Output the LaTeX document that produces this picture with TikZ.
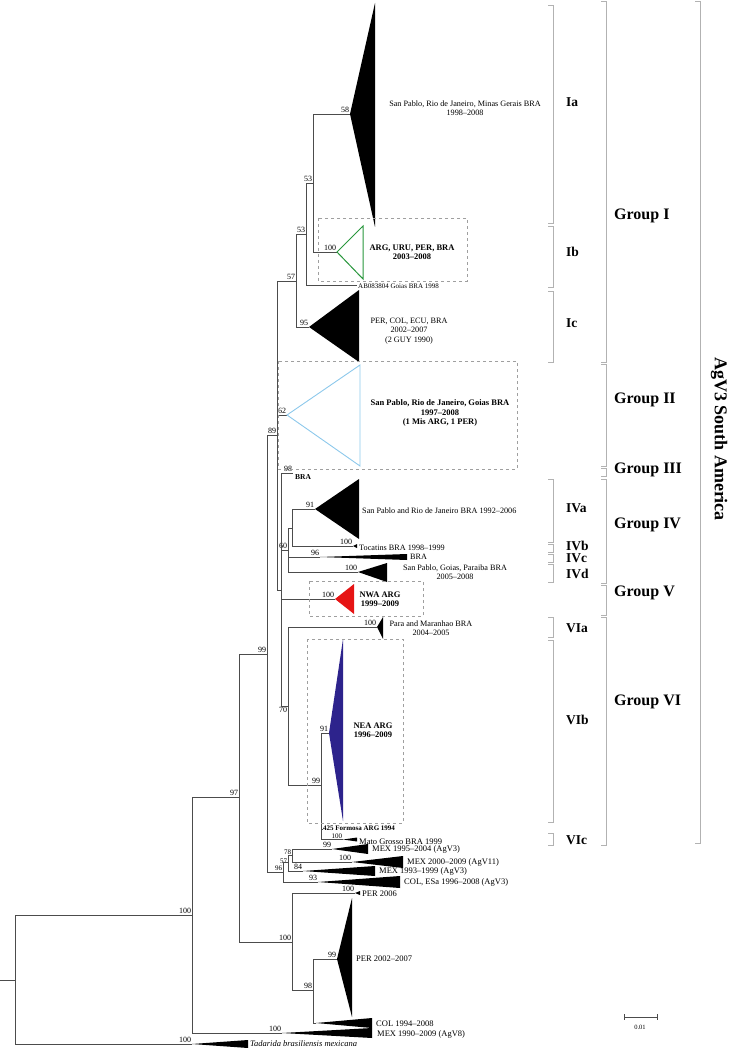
\documentclass[tikz,border=0pt]{standalone}
\usepackage{fontspec}
\setmainfont{Liberation Serif}
\definecolor{cladegreen}{RGB}{40,150,60}
\definecolor{cladesky}{RGB}{140,200,235}
\definecolor{cladered}{RGB}{230,20,20}
\definecolor{cladenavy}{RGB}{45,35,140}
\tikzset{
  branch/.style={draw=black!70, line width=0.6pt},
  bs/.style={font=\fontsize{8}{8}\selectfont, inner sep=0.8pt},
  sbs/.style={font=\fontsize{7}{7}\selectfont, inner sep=0.6pt},
  txt/.style={font=\fontsize{8.2}{9.3}\selectfont, align=center, inner sep=0pt},
  btxt/.style={txt, font=\fontsize{8.5}{9.5}\selectfont\bfseries},
  ltxt/.style={txt, font=\fontsize{8.5}{9.5}\selectfont, anchor=west},
  dbox/.style={draw=gray!75, dashed, line width=0.7pt},
  brk/.style={draw=gray!60, line width=0.9pt},
  sublab/.style={font=\fontsize{13.5}{13.5}\selectfont\bfseries, anchor=west, inner sep=0pt},
  grplab/.style={font=\fontsize{16}{16}\selectfont\bfseries, anchor=west, inner sep=0pt}
}
\begin{document}
\begin{tikzpicture}[x=1pt,y=-1pt]
\useasboundingbox (0,0) rectangle (731,1048);

% backbone
\coordinate (origin) at (0,980);
\coordinate (root) at (15,980);
\coordinate[label={[bs]above left:100}] (nA) at (192,915);
\coordinate[label={[bs]above left:100}] (tad) at (192,1044);
\coordinate[label={[bs]above left:97}] (nB) at (239,797);
\coordinate[label={[bs]above left:100}] (agv8) at (282,1033);
\coordinate[label={[bs]above left:99}] (nD) at (267,654);
\coordinate[label={[bs]above left:100}] (nC) at (292,942);
\coordinate[label={[bs]above left:100}] (per06) at (355,893);
\coordinate[label={[bs]above left:98}] (nE) at (313,990);
\coordinate[label={[bs]above left:99}] (per27) at (337,959);
\coordinate (col) at (316,1023);

% mexican lineages
\coordinate[label={[sbs, yshift=0.8pt]above left:96}] (nF) at (283,872);
\coordinate[label={[sbs, yshift=0.8pt]left:57}] (nG) at (288,862);
\coordinate[label={[sbs]above left:78}] (nH) at (292,855);
\coordinate[label={[bs]above left:93}] (colesa) at (318,882);
\coordinate[label={[bs]above left:84}] (mex9399) at (303,871);
\coordinate[label={[bs]above left:99}] (mex9504) at (332,849);
\coordinate[label={[bs]above left:100}] (mex0009) at (352,862);

% south american groups
\coordinate[label={[bs]above left:89}] (nI) at (277,435);
\coordinate[label={[bs]above left:57}] (nP) at (296,281);
\coordinate[label={[bs]above left:62}] (g2) at (287,415);
\coordinate (nJ) at (281,590);
\coordinate[label={[bs]above left:53}] (nQ) at (306,234);
\coordinate[label={[bs]above left:95}] (ic) at (309,327);
\coordinate[label={[bs]above left:53}] (nR) at (313,183);
\coordinate (ab) at (357,285);
\coordinate[label={[bs]above left:58}] (ia) at (350,114);
\coordinate[label={[bs]above left:100}] (ib) at (337,252);
\coordinate[label={[bs]above left:98}] (bra) at (293,473);
\coordinate[label={[bs]above left:60}] (nK) at (288,550);
\coordinate[label={[bs]above left:100}] (nwa) at (335,599);
\coordinate[label={[bs]below left:70}] (nM) at (288,706);
\coordinate (nL) at (292,528);
\coordinate[label={[bs]above left:96}] (ivc) at (320,557);
\coordinate[label={[bs]above left:100}] (ivd) at (358,572);
\coordinate[label={[bs]above left:91}] (iva) at (315,509);
\coordinate[label={[bs]above left:100}] (ivb) at (353,546);
\coordinate[label={[bs]above left:100}] (via) at (377,627);
\coordinate[label={[bs]above left:99}] (nN) at (321,785);
\coordinate[label={[bs]above left:91}] (vib) at (329,733);
\coordinate (formosa) at (323,829);
\coordinate[label={[sbs]above left:100}] (mato) at (343,839.5);

% branches
\draw[branch] (origin) -- (root);
\draw[branch] (root) |- (nA) (root) |- (tad);
\draw[branch] (nA) |- (nB) (nA) |- (agv8);
\draw[branch] (nB) |- (nD) (nB) |- (nC);
\draw[branch] (nC) |- (per06) (nC) |- (nE);
\draw[branch] (nE) |- (per27) (nE) |- (col);
\draw[branch] (nD) |- (nI) (nD) |- (nF);
\draw[branch] (nF) |- (nG) (nF) |- (colesa);
\draw[branch] (nG) |- (nH) (nG) |- (mex9399);
\draw[branch] (nH) |- (mex9504) (nH) |- (mex0009);
\draw[branch] (nI) |- (nP) (nI) |- (g2) (nI) |- (nJ);
\draw[branch] (nP) |- (nQ) (nP) |- (ic);
\draw[branch] (nQ) |- (nR) (nQ) |- (ab);
\draw[branch] (nR) |- (ia) (nR) |- (ib);
\draw[branch] (nJ) |- (bra) (nJ) |- (nK) (nJ) |- (nwa) (nJ) |- (nM);
\draw[branch] (nK) |- (nL) (nK) |- (ivc) (nK) |- (ivd);
\draw[branch] (nL) |- (iva) (nL) |- (ivb);
\draw[branch] (nM) |- (via) (nM) |- (nN);
\draw[branch] (nN) |- (vib) (nN) |- (formosa) (nN) |- (mato);

% collapsed clades
\fill (ia) -- (375,3) -- (375,227) -- cycle;
\draw[cladegreen, line width=1pt] (ib) -- (363,226) -- (363,279) -- cycle;
\fill (ic) -- (359,290) -- (359,362) -- cycle;
\draw[cladesky, line width=0.9pt] (g2) -- (360,365) -- (360,466) -- cycle;
\fill (iva) -- (359,479) -- (359,539) -- cycle;
\fill (ivb) -- (357,544) -- (357,548) -- cycle;
\fill (ivc) -- (407,554) -- (407,560) -- cycle;
\fill (ivd) -- (387,563) -- (387,582) -- cycle;
\fill[cladered] (nwa) -- (354,584) -- (354,614) -- cycle;
\fill (via) -- (383,617) -- (383,639) -- cycle;
\fill[cladenavy] (vib) -- (343,639) -- (343,821) -- cycle;
\fill (mato) -- (357,837.5) -- (357,841.5) -- cycle;
\fill (mex9504) -- (368,844) -- (368,854) -- cycle;
\fill (mex0009) -- (403,856) -- (403,868) -- cycle;
\fill (mex9399) -- (375,866) -- (375,876) -- cycle;
\fill (colesa) -- (400,876) -- (400,888) -- cycle;
\fill (per06) -- (360,891) -- (360,895) -- cycle;
\fill (per27) -- (352,898) -- (352,1017) -- cycle;
\fill (col) -- (372,1018) -- (372,1028) -- cycle;
\fill (agv8) -- (372,1028) -- (372,1038) -- cycle;
\fill (tad) -- (248,1040) -- (248,1048) -- cycle;

% dashed boxes
\draw[dbox] (318,218) rectangle (467,281);
\draw[dbox] (278,361) rectangle (517,469);
\draw[dbox] (309,581) rectangle (423,616);
\draw[dbox] (307,639) rectangle (403,823);

% clade texts
\node[txt] (tIa) at (465,108) {San Pablo, Rio de Janeiro, Minas Gerais BRA\\1998–2008};
\node[btxt] (tIb) at (412,252) {ARG, URU, PER, BRA\\2003–2008};
\node[txt, anchor=west, font=\fontsize{7}{7}\selectfont] (tab) at (358,286.5) {AB083804 Goias BRA 1998};
\node[txt] (tIc) at (409,331) {PER, COL, ECU, BRA\\2002–2007\\(2 GUY 1990)};
\node[btxt] (tII) at (440,413) {San Pablo, Rio de Janeiro, Goias BRA\\1997–2008\\(1 Mis ARG, 1 PER)};
\node[btxt, anchor=west, font=\fontsize{7.5}{8}\selectfont\bfseries] (tbra) at (295,477) {BRA};
\node[txt, anchor=west] (tIVa) at (362,511) {San Pablo and Rio de Janeiro BRA 1992–2006};
\node[txt, anchor=west] (tIVb) at (359,548) {Tocatins BRA 1998–1999};
\node[txt, anchor=west] (tIVc) at (410,557) {BRA};
\node[txt] (tIVd) at (455,572) {San Pablo, Goias, Paraiba BRA\\2005–2008};
\node[btxt] (tV) at (380,599) {NWA ARG\\1999–2009};
\node[txt] (tVIa) at (431,628) {Para and Maranhao BRA\\2004–2005};
\node[btxt] (tVIb) at (373,730) {NEA ARG\\1996–2009};
\node[anchor=west, inner sep=0pt, font=\fontsize{7}{7}\selectfont\bfseries] (tform) at (323,828.5) {425 Formosa ARG 1994};
\node[ltxt] (tmato) at (359,841.5) {Mato Grosso BRA 1999};
\node[ltxt] (tm9504) at (372,849) {MEX 1995–2004 (AgV3)};
\node[ltxt] (tm0009) at (407,862) {MEX 2000–2009 (AgV11)};
\node[ltxt] (tm9399) at (379,871) {MEX 1993–1999 (AgV3)};
\node[ltxt] (tcolesa) at (404,882) {COL, ESa 1996–2008 (AgV3)};
\node[ltxt] (tper06) at (362,894) {PER 2006};
\node[ltxt] (tper27) at (356,959) {PER 2002–2007};
\node[ltxt] (tcol) at (376,1024) {COL 1994–2008};
\node[ltxt] (tagv8) at (377,1034) {MEX 1990–2009 (AgV8)};
\node[ltxt, font=\fontsize{8.5}{9.5}\selectfont\itshape] (ttad) at (250,1044) {Tadarida brasiliensis mexicana};

% subgroup brackets
\foreach \ya/\yb/\yl/\name [count=\i] in {5/223/102/Ia, 226/287/252/Ib, 291/362/323/Ic,
    479/542/508/IVa, 544/552/546/IVb, 554/562/558/IVc, 564/582/574/IVd,
    617/637/628/VIa, 640/822/720/VIb, 833/845/840/VIc}
{
  \draw[brk] (548,\ya) -- (553,\ya) -- (553,\yb) -- (548,\yb);
  \node[sublab] (sub\i) at (566,\yl) {\name};
}

% group brackets
\foreach \ya/\yb/\yl/\name [count=\i] in {1/362/216/Group I, 364/466/400/Group II,
    468/476/470/Group III, 479/583/525/Group IV, 585/615/593/Group V, 617/845/702/Group VI}
{
  \draw[brk] (601,\ya) -- (606,\ya) -- (606,\yb) -- (601,\yb);
  \node[grplab] (grp\i) at (614,\yl) {\name};
}

\draw[brk] (695,1) -- (700,1) -- (700,843) -- (695,843);
\node[rotate=-90, inner sep=0pt, font=\fontsize{18}{18}\selectfont\bfseries] (agv3) at (719,439) {AgV3 South America};

% scale bar
\draw[branch] (624,1014) -- (624,1020) (624,1017) -- (657,1017) (657,1014) -- (657,1020);
\node[inner sep=0pt, font=\fontsize{6.5}{6.5}\selectfont] (scale) at (640,1027) {0.01};
\end{tikzpicture}
\end{document}
